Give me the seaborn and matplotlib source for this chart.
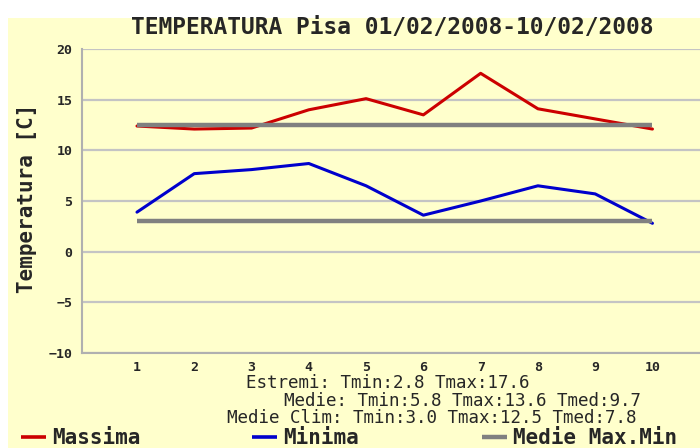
import pandas as pd
import seaborn as sns
import matplotlib
matplotlib.use('Agg')
import matplotlib.pyplot as plt
from matplotlib.lines import Line2D
from matplotlib.patches import Rectangle

# dati
giorni = [1, 2, 3, 4, 5, 6, 7, 8, 9, 10]
massima = [12.4, 12.1, 12.2, 14.0, 15.1, 13.5, 17.6, 14.1, 13.1, 12.1]
minima = [3.9, 7.7, 8.1, 8.7, 6.5, 3.6, 5.0, 6.5, 5.7, 2.8]
clim_max = [12.5] * 10
clim_min = [3.0] * 10

titolo = 'TEMPERATURA Pisa 01/02/2008-10/02/2008'
etichetta_y = 'Temperatura [C]'
righe_stat = [
    'Estremi: Tmin:2.8 Tmax:17.6',
    'Medie: Tmin:5.8 Tmax:13.6 Tmed:9.7',
    'Medie Clim: Tmin:3.0 Tmax:12.5 Tmed:7.8',
]
serie_nomi = ['Massima', 'Minima', 'Medie Max.Min']
colori = {'Massima': '#cc0000', 'Minima': '#0000cc', 'Medie Max.Min': '#808080'}

# tabella lunga per seaborn
df = pd.concat([
    pd.DataFrame({'giorno': giorni, 'temp': massima, 'serie': 'Massima', 'gruppo': 'max'}),
    pd.DataFrame({'giorno': giorni, 'temp': minima, 'serie': 'Minima', 'gruppo': 'min'}),
    pd.DataFrame({'giorno': giorni, 'temp': clim_max, 'serie': 'Medie Max.Min', 'gruppo': 'cmax'}),
    pd.DataFrame({'giorno': giorni, 'temp': clim_min, 'serie': 'Medie Max.Min', 'gruppo': 'cmin'}),
])

sns.set_style('white')
plt.rcParams['font.family'] = ['DejaVu Sans Mono', 'DejaVu Sans']

crema = '#ffffcc'
W, H = 700, 448
fig = plt.figure(figsize=(7, 4.48), dpi=100, facecolor='white')
fig.patches.append(Rectangle((8 / W, 0), 1, 1 - 18 / H, transform=fig.transFigure,
                             facecolor=crema, edgecolor='none', zorder=-10))

ax = fig.add_axes([82 / W, 1 - 353 / H, (W - 82) / W, (353 - 49) / H])
ax.set_facecolor(crema)

# griglia
for v in range(-10, 21, 5):
    ax.axhline(v, color='#c4c4c4', lw=1.6, zorder=0)

for nome in ['Massima', 'Minima']:
    sns.lineplot(data=df[df['serie'] == nome], x='giorno', y='temp', color=colori[nome],
                 lw=2.2, ax=ax, legend=False, estimator=None)
sns.lineplot(data=df[df['serie'] == 'Medie Max.Min'], x='giorno', y='temp', units='gruppo',
             color=colori['Medie Max.Min'], lw=3.2, ax=ax, legend=False, estimator=None,
             solid_capstyle='butt')

ax.set_xlim(0.04, 10.83)
ax.set_ylim(-10, 20)
ax.set_xticks(giorni)
ax.set_yticks(range(-10, 21, 5))
ax.set_xlabel('')
ax.set_ylabel('')
for s in ['top', 'right']:
    ax.spines[s].set_visible(False)
for s in ['left', 'bottom']:
    ax.spines[s].set_color('#b0b0b0')
    ax.spines[s].set_linewidth(1.5)
ax.tick_params(axis='x', length=4, width=1.5, color='#b0b0b0', pad=2, labelsize=9.5)
ax.tick_params(axis='y', length=0, pad=7, labelsize=9.5)
for t in ax.get_xticklabels() + ax.get_yticklabels():
    t.set_fontweight('bold')

fig.text(392 / W, 1 - 28 / H, titolo, ha='center', va='center', fontsize=16.5, fontweight='bold')
fig.text(27 / W, 1 - 198 / H, etichetta_y, ha='center', va='center', rotation=90,
         fontsize=15, fontweight='bold')

# righe di statistiche, centrate come nell'originale
pos_stat = [(388, 383), (462, 400.5), (432, 417.5)]
for riga, (px, py) in zip(righe_stat, pos_stat):
    fig.text(px / W, 1 - py / H, riga, ha='center', va='center', fontsize=12.6)

# legenda in basso
pos_leg = [21, 252, 482]
for nome, px in zip(serie_nomi, pos_leg):
    lw = 3.2 if nome == 'Medie Max.Min' else 2.6
    fig.add_artist(Line2D([px / W, (px + 25) / W], [1 - 437 / H, 1 - 437 / H],
                          transform=fig.transFigure, color=colori[nome], lw=lw,
                          solid_capstyle='butt'))
    fig.text((px + 31) / W, 0.5 / H, nome, ha='left', va='bottom', fontsize=15,
             fontweight='bold')

fig.savefig('out.png', dpi=100, facecolor=fig.get_facecolor())
